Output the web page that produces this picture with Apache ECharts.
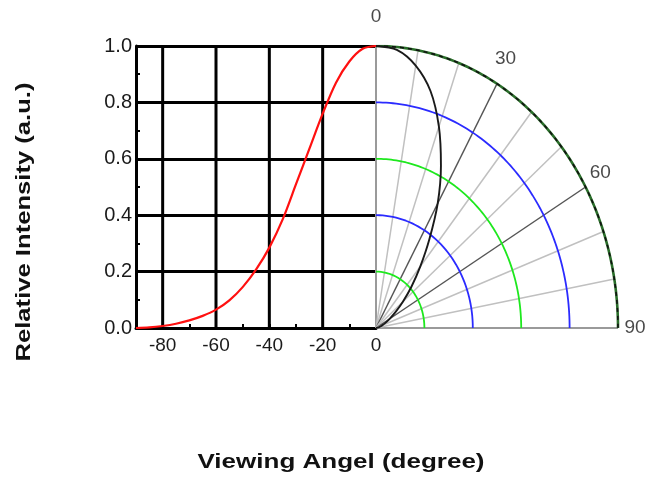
<!DOCTYPE html>
<html><head><meta charset="utf-8">
<script src="https://cdn.jsdelivr.net/npm/echarts@6/dist/echarts.min.js"></script>
<style>html,body{margin:0;padding:0;background:#fff}#c{width:663px;height:481px}</style>
</head><body><div id="c"></div>
<script>
// ---- data ----
const angles = [-90,-85,-80,-75,-70,-65,-60,-55,-50,-45,-40,-35,-30,-25,-20,-15,-10,-5,0];
const intensity = [0,0.002,0.007,0.015,0.027,0.043,0.065,0.098,0.145,0.207,0.285,0.385,0.51,0.635,0.76,0.87,0.945,0.99,1.0];
const xGridTicks = [-80,-60,-40,-20];
const ringRadii = [0.2,0.4,0.6,0.8,1.0];
const spokeAngles = [10,20,30,40,50,60,70,80];
const polarLabels = [0,30,60,90];

// ---- styles ----
const ringColors = ['#1ee81e','#2b2bff','#1ee81e','#2b2bff','#2a6e2a'];
const spokeColor = a => (a % 30 === 0 ? '#555555' : '#c0c0c0');
const rad = d => d * Math.PI / 180;
const toXY = (r, a) => [r * Math.sin(rad(a)), r * Math.cos(rad(a))];
const FONT = 'Liberation Sans, Arial, sans-serif';

const series = [];
// left: vertical grid lines
xGridTicks.forEach(x => series.push({
  type:'line', xAxisIndex:0, yAxisIndex:0, data:[[x,0],[x,1]], symbol:'none', silent:true,
  lineStyle:{color:'#000', width:3}, z:2
}));
// left: intensity curve
series.push({
  type:'line', xAxisIndex:0, yAxisIndex:0, smooth:0.3, symbol:'none',
  data: angles.map((a,i)=>[a,intensity[i]]),
  lineStyle:{color:'#ff1010', width:2.2}, z:6
});
// right: 0 and 90 radial lines
series.push({type:'line', xAxisIndex:1, yAxisIndex:1, data:[toXY(0,0),toXY(1,0)], symbol:'none',
  lineStyle:{color:'#9a9a9a', width:2}, z:3});
series.push({type:'line', xAxisIndex:1, yAxisIndex:1, data:[toXY(0,90),toXY(1,90)], symbol:'none',
  lineStyle:{color:'#9a9a9a', width:2}, z:3});
// spokes
spokeAngles.forEach(a => series.push({
  type:'line', xAxisIndex:1, yAxisIndex:1, data:[toXY(0,a),toXY(1,a)], symbol:'none', silent:true,
  lineStyle:{color:spokeColor(a), width:1.5}, z:3
}));
// rings
const arcSteps = []; for (let a = 0; a <= 90; a += 1) arcSteps.push(a);
ringRadii.forEach((r,i) => series.push({
  type:'line', xAxisIndex:1, yAxisIndex:1, data:arcSteps.map(a=>toXY(r,a)), symbol:'none', silent:true,
  lineStyle:{color:ringColors[i], width: r === 1 ? 2.6 : 1.8}, z:4
}));
// outer ring dashed black overlay
series.push({
  type:'line', xAxisIndex:1, yAxisIndex:1, data:arcSteps.map(a=>toXY(1,a)), symbol:'none', silent:true,
  lineStyle:{color:'#111', width:1.6, type:[4,4]}, z:5
});
// polar intensity curve
series.push({
  type:'line', xAxisIndex:1, yAxisIndex:1, smooth:0.3, symbol:'none',
  data: angles.map((a,i)=>toXY(intensity[i], -a)),
  lineStyle:{color:'#1a1a1a', width:1.9}, z:6
});
// polar angle labels
series.push({
  type:'scatter', xAxisIndex:1, yAxisIndex:1, symbolSize:0, clip:false,
  data: polarLabels.map(a => ({
    value: toXY(1,a),
    label:{show:true, position:'inside', formatter:String(a),
      offset:[17*Math.sin(rad(a)), -29*Math.cos(rad(a))],
      color:'#1a1a1a', fontSize:19, fontFamily:FONT}
  })), z:7
});

const chart = echarts.init(document.getElementById('c'), null, {renderer:'canvas'});
chart.setOption({
  animation:false,
  backgroundColor:'#fff',
  grid:[
    {left:136, top:46, width:240, height:282},
    {left:376, top:46, width:242, height:282}
  ],
  xAxis:[
    {gridIndex:0, type:'value', min:-90, max:0, interval:10,
      axisLine:{show:true, onZero:false, lineStyle:{color:'#000', width:3}},
      axisTick:{show:true, inside:true, length:4, lineStyle:{color:'#000', width:2}},
      axisLabel:{formatter:v => (v % 20 === 0 ? String(v) : ''), color:'#1a1a1a', fontSize:19, fontFamily:FONT, margin:8},
      splitLine:{show:false}},
    {gridIndex:1, type:'value', min:0, max:1, show:false}
  ],
  yAxis:[
    {gridIndex:0, type:'value', min:0, max:1, interval:0.2,
      axisLine:{show:true, onZero:false, lineStyle:{color:'#000', width:3}},
      axisTick:{show:false},
      axisLabel:{formatter:v => v.toFixed(1), color:'#1a1a1a', fontSize:20, fontFamily:FONT, margin:4},
      splitLine:{show:true, lineStyle:{color:'#000', width:3}}},
    {gridIndex:1, type:'value', min:0, max:1, show:false},
    {gridIndex:0, type:'value', min:0, max:1, interval:0.1, position:'left', offset:0,
      axisLine:{show:false, onZero:false},
      axisTick:{show:true, inside:true, length:4, lineStyle:{color:'#000', width:2}},
      axisLabel:{show:false}, splitLine:{show:false}}
  ],
  graphic:[
    {type:'text', x:24, y:222, rotation:Math.PI/2, scaleX:1.22,
      style:{text:'Relative Intensity (a.u.)', font:'bold 21px '+FONT, fill:'#111', align:'center', verticalAlign:'middle'}},
    {type:'text', x:341, y:462, scaleX:1.3,
      style:{text:'Viewing Angel (degree)', font:'bold 20px '+FONT, fill:'#111', align:'center', verticalAlign:'middle'}}
  ],
  series: series
});
</script></body></html>
